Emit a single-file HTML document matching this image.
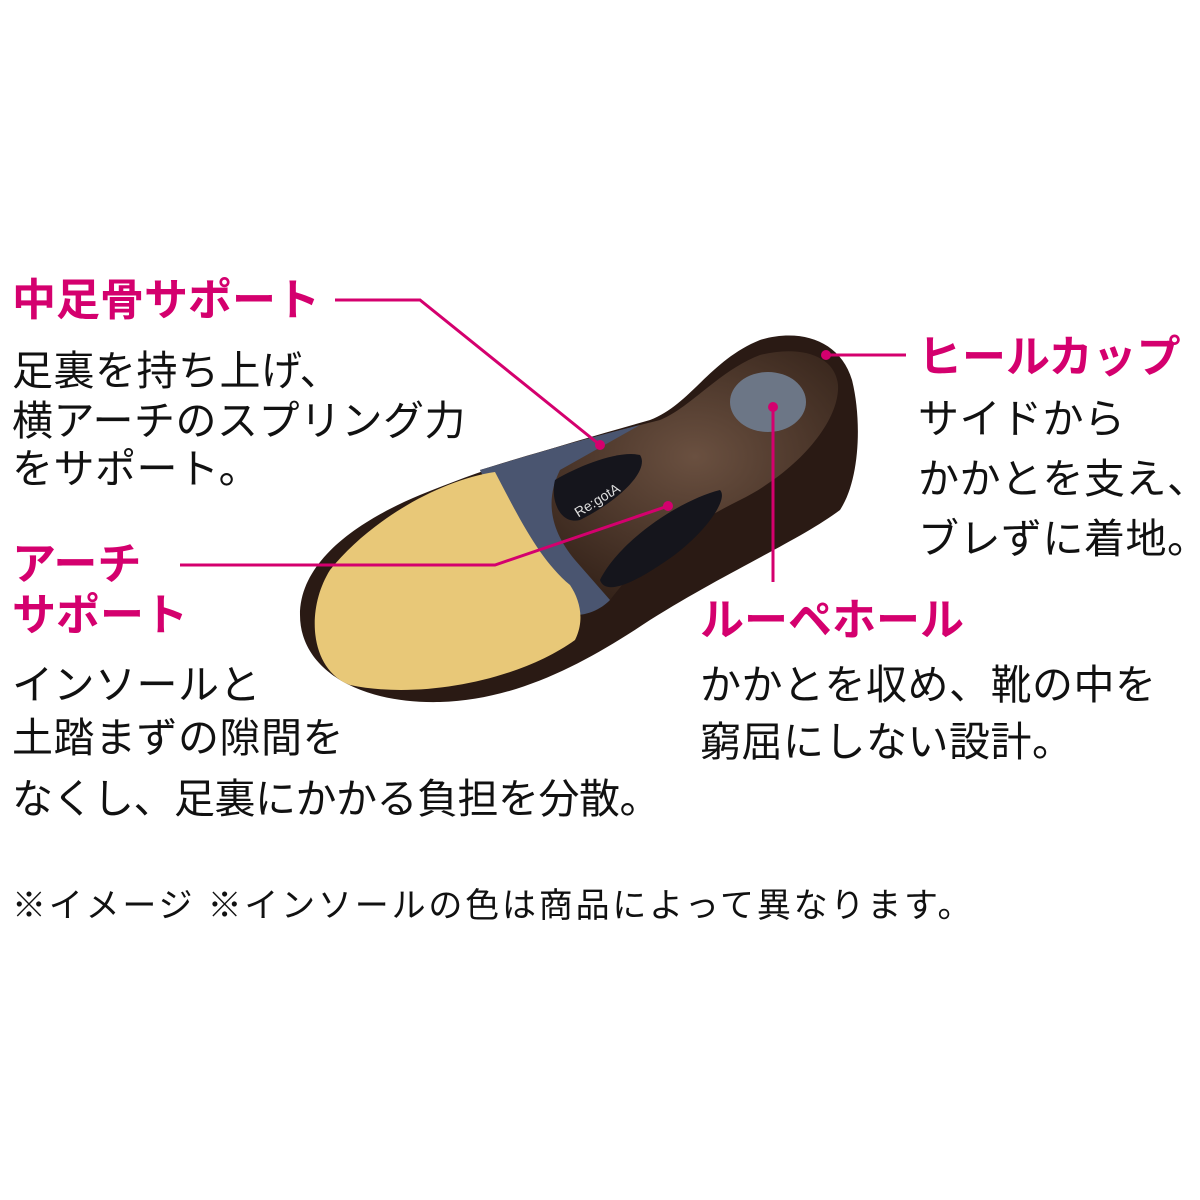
<!DOCTYPE html>
<html><head><meta charset="utf-8"><style>
body{margin:0;width:1200px;height:1200px;background:#fff;position:relative;overflow:hidden;font-family:"Liberation Sans","Noto Sans CJK JP",sans-serif}
.t{position:absolute;white-space:nowrap;line-height:1}
.h{color:#d4006e;font-weight:bold;font-size:44px;letter-spacing:0px}
.b{color:#111;font-size:41px;letter-spacing:0.5px}
</style></head><body>
<svg width="1200" height="1200" style="position:absolute;left:0;top:0">
<defs>
<radialGradient id="br" cx="0.6" cy="0.4" r="0.7"><stop offset="0" stop-color="#6a5040"/><stop offset="1" stop-color="#2a1a12"/></radialGradient>
</defs>
<path d="M300,615 C300,560 360,520 420,495 C500,462 580,440 650,420 C690,405 710,360 760,340 C800,328 840,340 852,380 C862,420 860,480 840,510 C800,540 730,570 650,620 C590,660 520,700 440,702 C360,704 300,670 300,615Z" fill="#2a1a14"/>
<path d="M480,470 C560,445 620,430 660,420 C690,408 720,370 760,355 C800,345 835,355 838,385 C840,420 800,470 740,500 C680,530 640,560 610,600 C590,620 560,620 540,600 C520,560 500,510 480,470Z" fill="url(#br)"/>
<path d="M480,470 C530,455 580,440 640,425 L560,470 C545,500 550,530 575,560 L610,600 C590,620 560,620 540,600 C520,560 500,510 480,470Z" fill="#4a5570"/>
<path d="M555,480 C580,465 620,450 640,455 C650,470 620,500 580,520 C560,525 550,500 555,480Z" fill="#15151c"/>
<path d="M600,580 C620,540 680,500 720,490 C730,500 700,540 660,565 C630,585 605,595 600,580Z" fill="#15151c"/>
<ellipse cx="768" cy="402" rx="38" ry="30" fill="#6c7686"/>
<path d="M495,472 C440,480 370,520 330,570 C305,610 310,670 350,685 C420,700 520,680 575,640 C585,620 580,600 570,585 C540,560 520,520 495,472Z" fill="#e8c878"/>
<text x="568" y="508" fill="#ddd" font-size="14" transform="rotate(-32 590 495)" font-family="Liberation Sans">Re:gotA</text>
<g stroke="#d4006e" stroke-width="3" fill="none">
<polyline points="335,300 420,300 600,445"/>
<polyline points="180,565 495,565 668,506"/>
<line x1="826" y1="355" x2="906" y2="355"/>
<line x1="773" y1="407" x2="773" y2="582"/>
</g>
<g fill="#d4006e"><circle cx="600" cy="445" r="5"/><circle cx="668" cy="506" r="5"/><circle cx="826" cy="355" r="5"/><circle cx="773" cy="407" r="5"/></g>
</svg>
<div class="t h" style="left:12px;top:279px">中足骨サポート</div>
<div class="t b" style="left:12px;top:351px">足裏を持ち上げ、</div>
<div class="t b" style="left:12px;top:401px">横アーチのスプリング力</div>
<div class="t b" style="left:12px;top:449px">をサポート。</div>
<div class="t h" style="left:12px;top:543px">アーチ</div>
<div class="t h" style="left:12px;top:594px">サポート</div>
<div class="t b" style="left:12px;top:665px">インソールと</div>
<div class="t b" style="left:12px;top:718px">土踏まずの隙間を</div>
<div class="t b" style="left:12px;top:779px;letter-spacing:-0.5px">なくし、足裏にかかる負担を分散。</div>
<div class="t h" style="left:918px;top:336px">ヒールカップ</div>
<div class="t b" style="left:918px;top:399px">サイドから</div>
<div class="t b" style="left:918px;top:459px">かかとを支え、</div>
<div class="t b" style="left:918px;top:519px">ブレずに着地。</div>
<div class="t h" style="left:700px;top:599px">ルーペホール</div>
<div class="t b" style="left:700px;top:665px">かかとを収め、靴の中を</div>
<div class="t b" style="left:700px;top:722px">窮屈にしない設計。</div>
<div class="t b" style="left:12px;top:889px;font-size:34px;letter-spacing:2.8px">※イメージ ※インソールの色は商品によって異なります。</div>
</body></html>
